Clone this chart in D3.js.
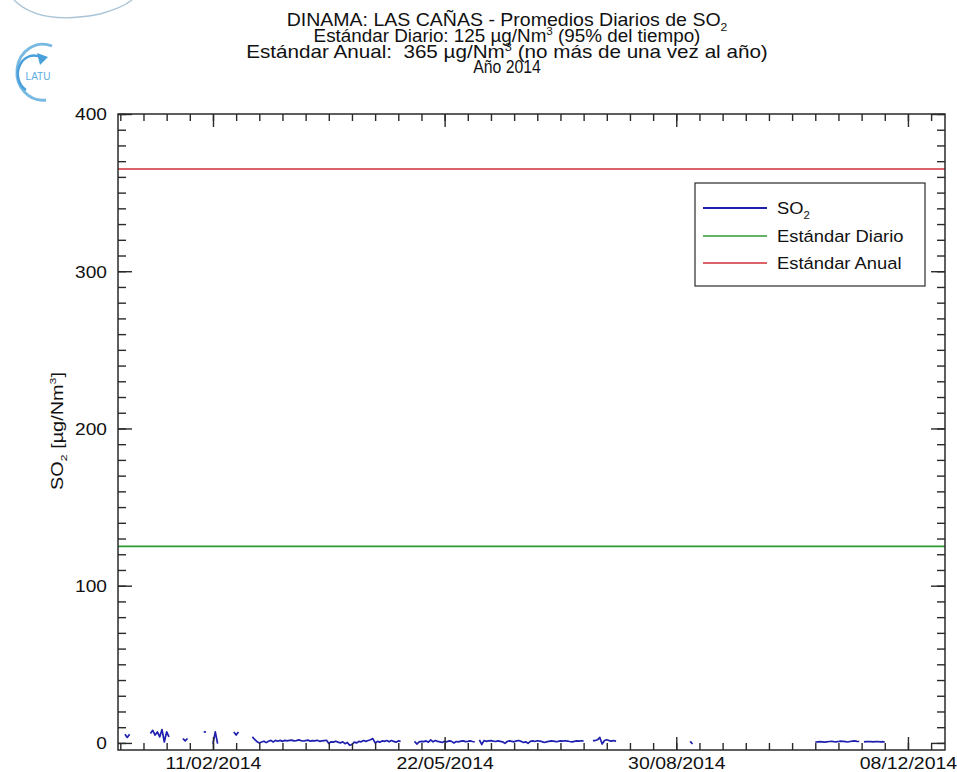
<!DOCTYPE html>
<html><head><meta charset="utf-8">
<script src="https://cdn.jsdelivr.net/npm/d3@7"></script>
<style>
body{margin:0;background:#fff}
svg{display:block}
text{font-family:"Liberation Sans",Arial,Helvetica,sans-serif;fill:#111;white-space:pre}
</style>
</head><body>
<svg id="c" width="957" height="772"></svg>
<script>
// ---------- data ----------
const titleLine1 = ["DINAMA: LAS CAÑAS - Promedios Diarios de SO", "2"];
const titleLine2 = ["Estándar Diario: 125 µg/Nm", "3", " (95% del tiempo)"];
const titleLine3 = ["Estándar Anual:  365 µg/Nm", "3", " (no más de una vez al año)"];
const titleLine4 = ["Año 2014"];
const yMajorTicks = [0, 100, 200, 300, 400];
const xTickLabels = ["11/02/2014", "22/05/2014", "30/08/2014", "08/12/2014"];
const standardDiario = 125;
const standardAnual = 365;
const legendLabels = ["SO2", "Estándar Diario", "Estándar Anual"];
const yAxisLabel = ["SO", "2", " [µg/Nm", "3", "]"];

// SO2 daily means, in runs of consecutive days (gaps between runs)
const segStarts = ["04/01/2014", "15/01/2014", "29/01/2014", "07/02/2014", "11/02/2014",
  "20/02/2014", "28/02/2014", "09/05/2014", "06/06/2014", "25/07/2014", "05/09/2014",
  "29/10/2014", "19/11/2014"];
const segValues = [
  [5.5, 3.5, 5.5],
  [6, 8, 5, 7, 3.8, 8.5, 0.6, 7, 3.8],
  [2.8, 1.3, 2.8],
  [7, 7],
  [-0.4, 7, -0.4],
  [7, 5, 7],
  [3.8, 2.2, 0.8, 0, 0.6, 1.1, 0.2, 1.1, 1.6, 0.6, 1.6, 1.1, 1.6, 1.0, 1.6, 1.3, 1.6, 1.8, 1.3, 1.5,
   1.9, 1.5, 1.2, 1.5, 1.8, 1.1, 1.5, 1.3, 1.7, 1.0, 1.3, 1.5, 1.7, -0.3, 0.7, 0.5, 1.1, 0.5, 0, 0.7,
   -0.5, 0.3, -1.5, -1.0, 0.5, 0, 1.0, 0.7, 1.5, 1.0, 1.5, 2.0, 2.8, 0, 1.0, 0.5, 1.3, 1.0, 1.5, 0.7,
   1.5, 1.0, 0.5, 1.3, 1.0],
  [1.0, -0.7, 0.7, 1.0, 0.8, 1.3, 0.5, 2.0, 0.7, 1.5, 1.0, 0.7, 0.3, 1.0, 0.7, 1.3, 1.0, 0, 0.9, 0.7,
   1.1, 1.3, 0.8, 1.0, 1.3, 0.9, 0.7],
  [2.0, -1.0, 1.5, 1.0, 1.3, 1.5, 1.1, 0.9, 1.3, 1.0, 0.7, -0.3, 0.9, 1.3, 1.0, 0.7, 1.3, 1.5, 1.0, 0.3,
   0.7, -0.3, 1.0, 1.3, 0.9, 1.4, 1.2, 0.8, 0.3, 0.7, 1.0, 1.3, 1.1, 0.8, 1.0, 1.3, 1.1, 1.4, 1.2, 0.9,
   0.7, 1.0, 1.3, 1.1, 1.4, 1.2],
  [1.5, 1.5, 2.0, 3.5, -0.7, 1.5, 2.0, 1.5, 1.1, 1.5, 1.0],
  [1.0, -0.7],
  [0.6, 0.7, 0.8, 0.7, 0.5, 0.7, 0.9, 1.0, 0.8, 0.7, 0.9, 1.1, 1.0, 0.8, 0.6, 0.9, 1.1, 1.3, 1.0, 0.9],
  [0.7, 0.8, 0.9, 0.8, 0.7, 0.8, 0.9, 0.7, 0.8, 0.6]
];

// ---------- layout ----------
const plot = {l: 118, r: 945, t: 114, b: 750};
const parse = d3.utcParse("%d/%m/%Y");
const fmt = d3.utcFormat("%d/%m/%Y");
const x = d3.scaleUtc()
  .domain([parse("01/01/2014"), parse("24/12/2014")])
  .range([plot.l, plot.r]);
const y = d3.scaleLinear().domain([-4.5, 400]).range([plot.b, plot.t]);

const colBlue = "#2020b0", colGreen = "#2f9a35", colRed = "#cc2f36", axisCol = "#2a2a2a";
const svg = d3.select("#c");

function fitX(sel, target, cx) {
  sel.each(function(){
    const w = this.getBBox().width;
    const s = target / w;
    d3.select(this).attr("transform", `translate(${cx},0) scale(${s},1) translate(${-cx},0)`);
  });
}
function richText(g, parts, xPos, yPos, size, anchor, kinds) {
  const t = g.append("text").attr("x", xPos).attr("y", yPos)
    .attr("text-anchor", anchor).style("font-size", size + "px");
  parts.forEach((p, i) => {
    const k = kinds[i];
    const ts = t.append("tspan").text(p);
    if (k === "sub") ts.style("font-size", (size * 0.62) + "px").attr("dy", size * 0.28);
    else if (k === "sup") ts.style("font-size", (size * 0.62) + "px").attr("dy", -size * 0.42);
    if (i > 0 && kinds[i - 1] === "sub") ts.attr("dy", -size * 0.28);
    if (i > 0 && kinds[i - 1] === "sup") ts.attr("dy", size * 0.42);
  });
  return t;
}

// ---------- logo ----------
const logo = svg.append("g");
logo.append("path").attr("d", "M 14 0 Q 40 26 100 14 Q 122 8 132 0")
  .attr("fill", "none").attr("stroke", "#a9c3d6").attr("stroke-width", 1.3);
logo.append("path").attr("d", "M 52 46 A 26 28 0 1 0 46 100")
  .attr("fill", "none").attr("stroke", "#78b9e2").attr("stroke-width", 2.8);
logo.append("path").attr("d", "M 26 90 A 14 16 0 0 1 42 58")
  .attr("fill", "none").attr("stroke", "#4aa0da").attr("stroke-width", 2.4);
logo.append("path").attr("d", "M 37 53 L 48 57 L 40 65 Z").attr("fill", "#4aa0da");
logo.append("text").attr("x", 38).attr("y", 80).attr("text-anchor", "middle")
  .style("font-size", "10px").style("fill", "#5aaee0").text("LATU");

// ---------- title ----------
const tg = svg.append("g");
const tcx = 507;
fitX(richText(tg, titleLine1, tcx, 26, 17.5, "middle", ["", "sub"]), 441, tcx);
fitX(richText(tg, titleLine2, tcx, 42, 17.5, "middle", ["", "sup", ""]), 387, tcx);
fitX(richText(tg, titleLine3, tcx, 58, 17.5, "middle", ["", "sup", ""]), 522, tcx);
fitX(richText(tg, titleLine4, tcx, 73, 17.5, "middle", [""]), 68, tcx);

// ---------- standard lines ----------
svg.append("line").attr("x1", plot.l).attr("x2", plot.r)
  .attr("y1", y(standardAnual)).attr("y2", y(standardAnual))
  .attr("stroke", colRed).attr("stroke-width", 1.6);
svg.append("line").attr("x1", plot.l).attr("x2", plot.r)
  .attr("y1", y(standardDiario)).attr("y2", y(standardDiario))
  .attr("stroke", colGreen).attr("stroke-width", 1.6);

// ---------- SO2 series ----------
const line = d3.line().x(d => x(d.d)).y(d => y(d.v));
segStarts.forEach((s, i) => {
  const start = parse(s);
  const data = segValues[i].map((v, j) => ({d: d3.utcDay.offset(start, j), v}));
  svg.append("path").datum(data).attr("d", line)
    .attr("fill", "none").attr("stroke", colBlue).attr("stroke-width", 1.7)
    .attr("stroke-linejoin", "round");
});

// ---------- axes ----------
const majorDates = xTickLabels.map(parse);
const minorDates = d3.range(0, 40).map(k => d3.utcDay.offset(parse("02/01/2014"), 10 * k))
  .filter(d => d <= x.domain()[1]);
const yMinor = d3.range(0, 401, 10);

function styleAxis(g) {
  g.select(".domain").remove();
  g.selectAll(".tick line").attr("stroke", axisCol).attr("stroke-width", 1.4);
}
svg.append("g").attr("transform", `translate(0,${plot.b})`)
  .call(d3.axisBottom(x).tickValues(minorDates).tickSize(-7).tickFormat("")).call(styleAxis);
svg.append("g").attr("transform", `translate(0,${plot.t})`)
  .call(d3.axisTop(x).tickValues(minorDates).tickSize(-7).tickFormat("")).call(styleAxis);
svg.append("g").attr("transform", `translate(0,${plot.t})`)
  .call(d3.axisTop(x).tickValues(majorDates).tickSize(-13).tickFormat("")).call(styleAxis);
const xb = svg.append("g").attr("transform", `translate(0,${plot.b})`)
  .call(d3.axisBottom(x).tickValues(majorDates).tickSize(-13).tickFormat(fmt)).call(styleAxis);
xb.selectAll("text").attr("y", 19).attr("dy", null).style("font-size", "16.5px")
  .attr("fill", "#111").attr("transform", "scale(1.18,1)");

svg.append("g").attr("transform", `translate(${plot.l},0)`)
  .call(d3.axisLeft(y).tickValues(yMinor).tickSize(-8).tickFormat("")).call(styleAxis);
svg.append("g").attr("transform", `translate(${plot.r},0)`)
  .call(d3.axisRight(y).tickValues(yMinor).tickSize(-8).tickFormat("")).call(styleAxis);
svg.append("g").attr("transform", `translate(${plot.r},0)`)
  .call(d3.axisRight(y).tickValues(yMajorTicks).tickSize(-14).tickFormat("")).call(styleAxis);
const yl = svg.append("g").attr("transform", `translate(${plot.l},0)`)
  .call(d3.axisLeft(y).tickValues(yMajorTicks).tickSize(-14).tickFormat(d3.format("d"))).call(styleAxis);
yl.selectAll("text").attr("x", 0).attr("dy", "0.36em").style("font-size", "16.5px")
  .attr("fill", "#111").attr("transform", "translate(-11,0) scale(1.16,1)");

// frame
svg.append("rect").attr("x", plot.l).attr("y", plot.t)
  .attr("width", plot.r - plot.l).attr("height", plot.b - plot.t)
  .attr("fill", "none").attr("stroke", axisCol).attr("stroke-width", 1.5);

// y axis title
const yt = svg.append("g").attr("transform", "translate(63,431) rotate(-90)");
fitX(richText(yt, yAxisLabel, 0, 0, 16, "middle", ["", "sub", "", "sup", ""]), 118, 0);

// ---------- legend ----------
const lg = svg.append("g");
lg.append("rect").attr("x", 695).attr("y", 183).attr("width", 230).attr("height", 103)
  .attr("fill", "#fff").attr("stroke", axisCol).attr("stroke-width", 1.2);
const legendColors = [colBlue, colGreen, colRed];
const legendY = [208, 236, 263];
legendLabels.forEach((lab, i) => {
  lg.append("line").attr("x1", 703).attr("x2", 767).attr("y1", legendY[i]).attr("y2", legendY[i])
    .attr("stroke", legendColors[i]).attr("stroke-width", i === 0 ? 2 : 1.5);
  let t;
  if (i === 0) t = richText(lg, ["SO", "2"], 777, legendY[i] + 6, 17, "start", ["", "sub"]);
  else t = richText(lg, [lab], 777, legendY[i] + 6, 17, "start", [""]);
  t.attr("transform", "translate(777,0) scale(1.08,1) translate(-777,0)");
});
</script>
</body></html>
